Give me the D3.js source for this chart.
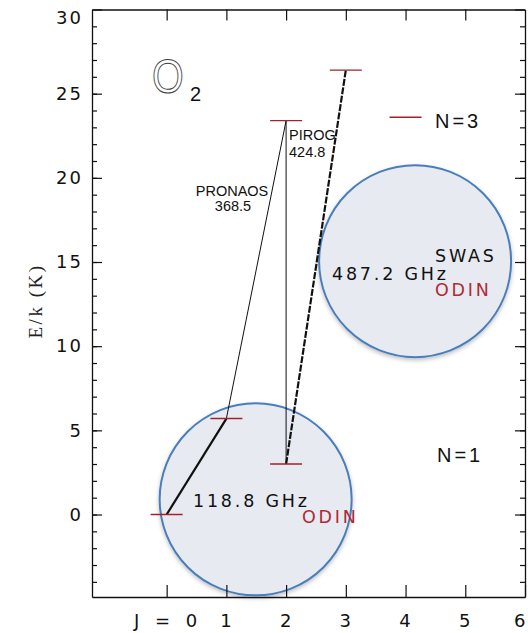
<!DOCTYPE html>
<html lang="en">
  <head>
    <meta charset="UTF-8" />
    <title>O2 energy levels</title>
    <script src="https://d3js.org/d3.v7.min.js"></script>
    <style>
      body { margin: 0; background: #fff; }
      .tick text { font-family: "DejaVu Sans", sans-serif; font-size: 18px; letter-spacing: 2px; fill: #111; }
      .lbl { font-family: "Liberation Sans", Arial, sans-serif; font-size: 14.5px; fill: #111; }
      .big { font-family: "DejaVu Sans", sans-serif; font-size: 17.5px; letter-spacing: 2.8px; fill: #111; }
      .nlab { font-family: "Liberation Sans", Arial, sans-serif; font-size: 20px; letter-spacing: 3px; fill: #111; }
    </style>
  </head>
  <body>
    <div id="chart"></div>
    <script>
      // Energy levels (rotational quantum number J, energy E/k in K)
      const levelJ = [0, 1, 2, 2, 3, 4];
      const levelE = [0, 5.7, 3.0, 23.4, 26.4, 23.6];

      // Transitions between levels (indexes into the level arrays)
      const transFrom = [0, 1, 2, 2];
      const transTo = [1, 3, 3, 4];
      const transStyle = ["thick", "thin", "thin", "dashed"];

      // Highlight circles (centre in data units)
      const circleJ = [1.49, 4.16];
      const circleE = [0.9, 15.05];

      // Tick labels
      const yMajor = [0, 5, 10, 15, 20, 25, 30];
      const yMinor = d3.range(-4, 30);
      const xTicks = [0, 1, 2, 3, 4, 5, 6];

      const W = 528, H = 633;
      const x = d3.scaleLinear().domain([-1.25, 6]).range([92, 525]);
      const y = d3.scaleLinear().domain([-4.9, 30]).range([597, 9.5]);

      const svg = d3.select("#chart").append("svg")
        .attr("width", W).attr("height", H);

      // Soft shadow like the original drawing
      const filt = svg.append("defs").append("filter").attr("id", "shadow")
        .attr("x", "-20%").attr("y", "-20%").attr("width", "140%").attr("height", "140%");
      filt.append("feDropShadow").attr("dx", 0).attr("dy", 2)
        .attr("stdDeviation", 2).attr("flood-color", "#000").attr("flood-opacity", 0.25);

      // Circles go under everything else
      svg.selectAll("circle.hl")
        .data(circleJ)
        .enter()
        .append("circle")
        .attr("class", "hl")
        .attr("cx", (d) => x(d))
        .attr("cy", (d, i) => y(circleE[i]))
        .attr("r", 96)
        .attr("fill", "#e7ebf1")
        .attr("stroke", "#4a7ebb")
        .attr("stroke-width", 2)
        .attr("filter", "url(#shadow)");

      // Left axis, ticks pointing inside
      const left = svg.append("g").attr("transform", "translate(" + x(-1.25) + ",0)");
      left.call(d3.axisLeft(y).tickValues(yMajor).tickSize(-10).tickSizeOuter(0).tickPadding(9));
      left.append("g").call(d3.axisLeft(y).tickValues(yMinor).tickSize(-5).tickFormat("").tickSizeOuter(0))
        .select(".domain").remove();
      // push the top label down a bit, like the original
      left.selectAll(".tick text").filter((d) => d === 30).attr("dy", "0.75em");

      // Right axis mirrored
      const right = svg.append("g").attr("transform", "translate(" + x(6) + ",0)");
      right.call(d3.axisLeft(y).tickValues(yMajor).tickSize(10).tickFormat("").tickSizeOuter(0));
      right.append("g").call(d3.axisLeft(y).tickValues(yMinor).tickSize(5).tickFormat("").tickSizeOuter(0))
        .select(".domain").remove();

      // Bottom axis
      const bottom = svg.append("g").attr("transform", "translate(0," + y(-4.9) + ")");
      bottom.call(d3.axisBottom(x).tickValues(xTicks).tickSize(-12).tickSizeOuter(0).tickPadding(17)
        .tickFormat((d) => (d === 0 ? "J = 0" : d)));
      bottom.selectAll(".tick text").filter((d) => d === 0)
        .style("letter-spacing", "5px").attr("x", 1);
      // last label sits on the frame edge; keep it inside the page
      bottom.selectAll(".tick text").filter((d) => d === 6)
        .attr("text-anchor", "end").attr("x", 2);

      // Top axis
      svg.append("g").attr("transform", "translate(0," + y(30) + ")")
        .call(d3.axisTop(x).tickValues([0, 1, 2, 3, 4, 5]).tickSize(-11).tickSizeOuter(0).tickFormat(""));

      svg.selectAll(".domain").attr("stroke", "#111").attr("stroke-width", 1.3);
      svg.selectAll(".tick line").attr("stroke", "#111").attr("stroke-width", 1.2);

      // Y title
      svg.append("text")
        .attr("transform", "translate(42,301) rotate(-90)")
        .attr("text-anchor", "middle")
        .style("font-family", "'Liberation Serif', 'Times New Roman', serif")
        .style("font-size", "19px")
        .style("letter-spacing", "2.5px")
        .attr("fill", "#222")
        .text("E/k (K)");

      // Transitions
      svg.selectAll("line.tr")
        .data(transFrom)
        .enter()
        .append("line")
        .attr("class", "tr")
        .attr("x1", (d) => x(levelJ[d]))
        .attr("y1", (d) => y(levelE[d]))
        .attr("x2", (d, i) => x(levelJ[transTo[i]]))
        .attr("y2", (d, i) => y(levelE[transTo[i]]))
        .attr("stroke", "#111")
        .attr("stroke-width", (d, i) => (transStyle[i] === "thin" ? 1 : 2.2))
        .attr("stroke-dasharray", (d, i) => (transStyle[i] === "dashed" ? "7,1.5" : null));

      // Energy levels
      svg.selectAll("line.lev")
        .data(levelJ)
        .enter()
        .append("line")
        .attr("class", "lev")
        .attr("x1", (d) => x(d) - 16)
        .attr("x2", (d) => x(d) + 16)
        .attr("y1", (d, i) => y(levelE[i]))
        .attr("y2", (d, i) => y(levelE[i]))
        .attr("stroke", "#a3202c")
        .attr("stroke-width", 1.4);

      // O2 label, outlined letter (a bit narrow, as in the original)
      svg.append("text")
        .attr("transform", "translate(152,93) scale(0.85,1)")
        .style("font-family", "'Liberation Sans', Arial, sans-serif")
        .style("font-size", "48px")
        .attr("fill", "#fff").attr("stroke", "#444").attr("stroke-width", 1)
        .text("O");
      svg.append("text")
        .attr("x", 190).attr("y", 101)
        .style("font-family", "'Liberation Sans', Arial, sans-serif")
        .style("font-size", "20px")
        .attr("fill", "#111")
        .text("2");

      // Transition names
      svg.append("text").attr("class", "lbl").attr("x", 289).attr("y", 140).text("PIROG");
      svg.append("text").attr("class", "lbl").attr("x", 289).attr("y", 157).text("424.8");
      svg.append("text").attr("class", "lbl").attr("x", 232).attr("y", 196).attr("text-anchor", "middle").text("PRONAOS");
      svg.append("text").attr("class", "lbl").attr("x", 233).attr("y", 211).attr("text-anchor", "middle").text("368.5");

      // Frequencies and instruments
      svg.append("text").attr("class", "big").attr("x", 332).attr("y", 280).text("487.2 GHz");
      svg.append("text").attr("class", "big").attr("x", 435).attr("y", 262).text("SWAS");
      svg.append("text").attr("class", "big").attr("x", 435).attr("y", 296).style("fill", "#b02a35").text("ODIN");
      svg.append("text").attr("class", "big").attr("x", 193).attr("y", 507).text("118.8 GHz");
      svg.append("text").attr("class", "big").attr("x", 302).attr("y", 523).style("fill", "#b02a35").text("ODIN");

      // N labels
      svg.append("text").attr("class", "nlab").attr("x", 435).attr("y", 128).text("N=3");
      svg.append("text").attr("class", "nlab").attr("x", 437).attr("y", 462).text("N=1");
    </script>
  </body>
</html>
